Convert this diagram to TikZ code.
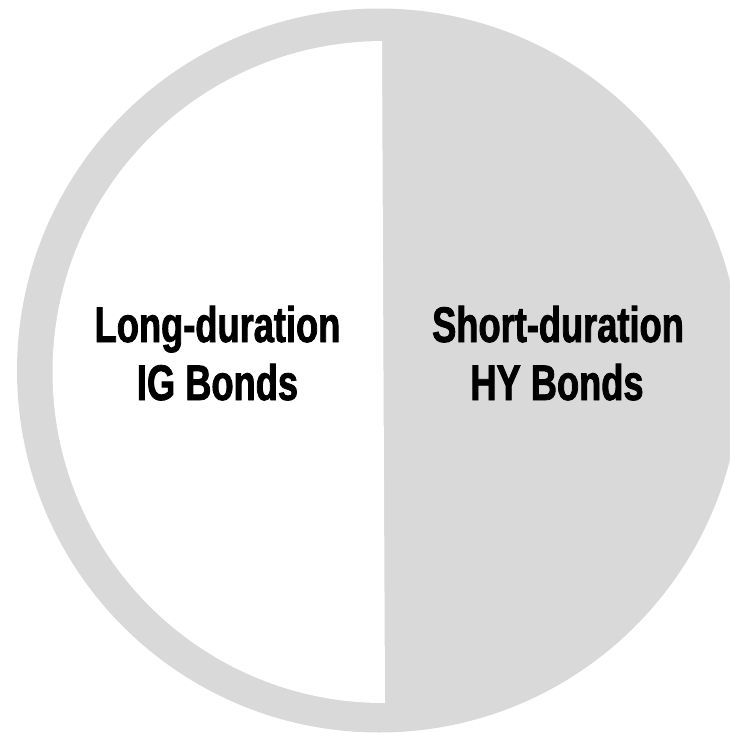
\documentclass[tikz,border=0pt]{standalone}
\usepackage{fontspec}
\newfontfamily\condfont[FakeStretch=0.725,FakeBold=1.6]{Liberation Sans Bold}
\definecolor{piegray}{HTML}{D9D9D9}
\begin{document}
\begin{tikzpicture}[x=1pt,y=-1pt,
  lbl/.style={align=center, inner sep=0pt, font=\condfont\fontsize{50}{58}\selectfont, text=black}]
\useasboundingbox (0,0) rectangle (730,733);
\begin{scope}
\clip (0,0) rectangle (730,733);
\fill[piegray] (379,370.5) circle[radius=362];
\fill[white] (382,41) -- (385,703) arc[start angle=89.74, end angle=269.74, radius=331] -- cycle;
\end{scope}
\node[lbl, anchor=base] (l1) at (217.5,342) {Long-duration};
\node[lbl, anchor=base] (l2) at (217.5,400) {IG Bonds};
\node[lbl, anchor=base] (r1) at (558,342) {Short-duration};
\node[lbl, anchor=base] (r2) at (557,400) {HY Bonds};
\end{tikzpicture}
\end{document}
